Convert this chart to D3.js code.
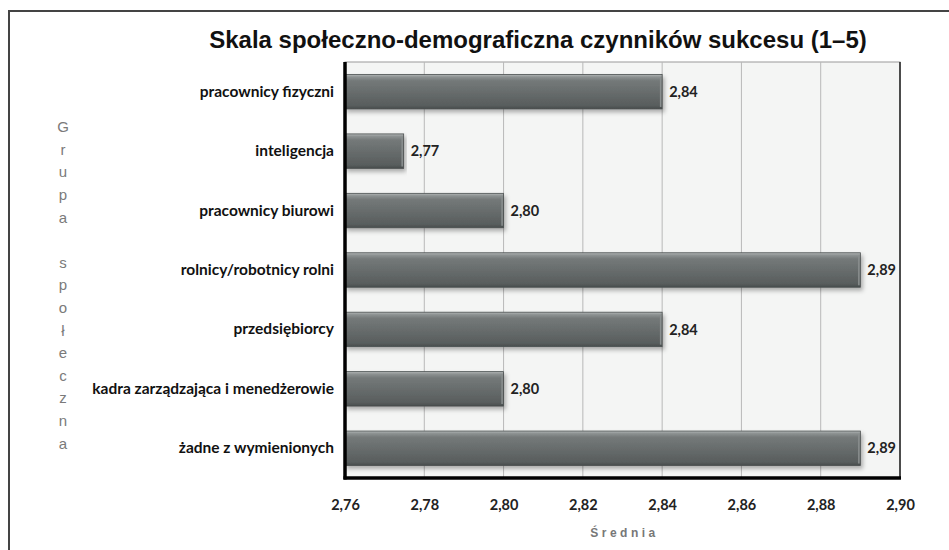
<!DOCTYPE html>
<html>
<head>
<meta charset="utf-8">
<script src="https://cdn.jsdelivr.net/npm/d3@7"></script>
<style>
  body { margin: 0; background: #fff; }
  svg { display: block; }
</style>
</head>
<body>
<div id="chart"></div>
<script>
// categories top to bottom
const categories = [
  "pracownicy fizyczni",
  "inteligencja",
  "pracownicy biurowi",
  "rolnicy/robotnicy rolni",
  "przedsiębiorcy",
  "kadra zarządzająca i menedżerowie",
  "żadne z wymienionych"
];
const values = [2.84, 2.7748, 2.80, 2.89, 2.84, 2.80, 2.89];
const xTicks = [2.76, 2.78, 2.80, 2.82, 2.84, 2.86, 2.88, 2.90];
const title = "Skala społeczno-demograficzna czynników sukcesu (1–5)";
const xTitle = "Średnia";
const yTitle = "Grupa społeczna";

const W = 949, H = 550;
const margin = {left: 345, right: 49, top: 62, bottom: 72};

let svg = d3.select("#chart").append("svg")
    .attr("width", W)
    .attr("height", H);

let defs = svg.append("defs");
let grad = defs.append("linearGradient")
    .attr("id", "barGrad")
    .attr("x1", 0).attr("y1", 0).attr("x2", 0).attr("y2", 1);
[[0, "#b4b8b8"], [0.07, "#8d9292"], [0.18, "#747979"], [0.6, "#646969"], [0.9, "#585d5d"], [1, "#474c4c"]]
  .forEach(s => grad.append("stop").attr("offset", s[0]).attr("stop-color", s[1]));

let shadow = defs.append("filter").attr("id", "shadow")
    .attr("x", "-5%").attr("y", "-20%").attr("width", "110%").attr("height", "150%");
shadow.append("feDropShadow")
    .attr("dx", 2).attr("dy", 3).attr("stdDeviation", 2)
    .attr("flood-color", "#000").attr("flood-opacity", 0.3);

// outer frame
svg.append("path")
    .attr("d", `M9,${H + 5} V11 H${W + 5}`)
    .attr("fill", "none")
    .attr("stroke", "#444")
    .attr("stroke-width", 2);

let x = d3.scaleLinear()
    .domain([2.76, 2.90])
    .range([margin.left, W - margin.right]);

let y = d3.scaleBand()
    .domain(categories)
    .range([margin.top, H - margin.bottom])
    .paddingInner(0.42)
    .paddingOuter(0.21);

// plot background
svg.append("rect")
    .attr("x", x(2.76)).attr("y", margin.top)
    .attr("width", x(2.90) - x(2.76))
    .attr("height", H - margin.bottom - margin.top)
    .attr("fill", "#f4f5f4")
    .attr("stroke", "#9a9a9a")
    .attr("stroke-width", 1);

// gridlines
svg.append("g").selectAll("line")
    .data(xTicks.slice(1, -1)).enter()
    .append("line")
    .attr("x1", d => x(d)).attr("x2", d => x(d))
    .attr("y1", margin.top).attr("y2", H - margin.bottom)
    .attr("stroke", "#b8b8b8")
    .attr("stroke-width", 1);

// right border
svg.append("line")
    .attr("x1", x(2.90)).attr("x2", x(2.90))
    .attr("y1", margin.top).attr("y2", H - margin.bottom)
    .attr("stroke", "#222").attr("stroke-width", 1.5);

// bars
let bars = svg.append("g").selectAll("g")
    .data(categories).enter()
    .append("g");

bars.append("rect")
    .attr("x", x(2.76))
    .attr("y", d => y(d))
    .attr("width", (d, i) => x(values[i]) - x(2.76))
    .attr("height", y.bandwidth())
    .attr("fill", "url(#barGrad)")
    .attr("stroke", "#4a4f4f")
    .attr("stroke-width", 0.8)
    .attr("filter", "url(#shadow)");

// bevel highlight on right end
bars.append("line")
    .attr("x1", (d, i) => x(values[i]) - 1.5)
    .attr("x2", (d, i) => x(values[i]) - 1.5)
    .attr("y1", d => y(d) + 3)
    .attr("y2", d => y(d) + y.bandwidth() - 2)
    .attr("stroke", "#8a8f8f")
    .attr("stroke-width", 1.5);

// value labels
bars.append("text")
    .attr("x", (d, i) => x(values[i]) + 7)
    .attr("y", d => y(d) + y.bandwidth() / 2)
    .attr("dy", "0.35em")
    .attr("font-family", "Lato, sans-serif")
    .attr("font-weight", "bold")
    .attr("font-size", 14.5)
    .attr("fill", "#222")
    .text((d, i) => d3.format(".2f")(values[i]).replace(".", ","));

// y axis line (thick black)
svg.append("line")
    .attr("x1", x(2.76)).attr("x2", x(2.76))
    .attr("y1", margin.top).attr("y2", H - margin.bottom + 1.5)
    .attr("stroke", "#000").attr("stroke-width", 3.5);

// bottom axis line
svg.append("line")
    .attr("x1", x(2.76) - 1.5).attr("x2", x(2.90) + 1)
    .attr("y1", H - margin.bottom).attr("y2", H - margin.bottom)
    .attr("stroke", "#000").attr("stroke-width", 3.5);

// x axis ticks
let xAxis = svg.append("g")
    .attr("transform", `translate(0,${H - margin.bottom + 19})`)
    .call(d3.axisBottom(x).tickValues(xTicks).tickSize(0)
        .tickFormat(d => d3.format(".2f")(d).replace(".", ",")));
xAxis.select(".domain").remove();
xAxis.selectAll("text")
    .attr("font-family", "Lato, sans-serif")
    .attr("font-weight", "bold")
    .attr("font-size", 14.5)
    .attr("fill", "#222");

// y axis category labels
let yAxis = svg.append("g")
    .attr("transform", `translate(${x(2.76) - 11},0)`)
    .call(d3.axisLeft(y).tickSize(0).tickPadding(0));
yAxis.select(".domain").remove();
yAxis.selectAll("text")
    .attr("font-family", "Lato, sans-serif")
    .attr("font-weight", "bold")
    .attr("font-size", 15.5)
    .attr("fill", "#111");

// title
svg.append("text")
    .attr("x", 538).attr("y", 48)
    .attr("text-anchor", "middle")
    .attr("font-family", "Liberation Sans, Arial, sans-serif")
    .attr("font-weight", "bold")
    .attr("font-size", 24)
    .attr("fill", "#111")
    .text(title);

// x title
svg.append("text")
    .attr("x", (x(2.76) + x(2.90)) / 2 + 2).attr("y", 537)
    .attr("text-anchor", "middle")
    .attr("font-family", "Liberation Sans, Arial, sans-serif")
    .attr("font-weight", "bold")
    .attr("font-size", 12)
    .attr("letter-spacing", 3.5)
    .attr("fill", "#777")
    .text(xTitle);

// y title, one letter per line
svg.append("g").selectAll("text")
    .data(yTitle.split("")).enter()
    .append("text")
    .attr("x", 63)
    .attr("y", (d, i) => 127 + i * 22.6)
    .attr("dy", "0.35em")
    .attr("text-anchor", "middle")
    .attr("font-family", "Liberation Sans, Arial, sans-serif")
    .attr("font-size", 15)
    .attr("fill", "#7a7a7a")
    .text(d => d);
</script>
</body>
</html>
